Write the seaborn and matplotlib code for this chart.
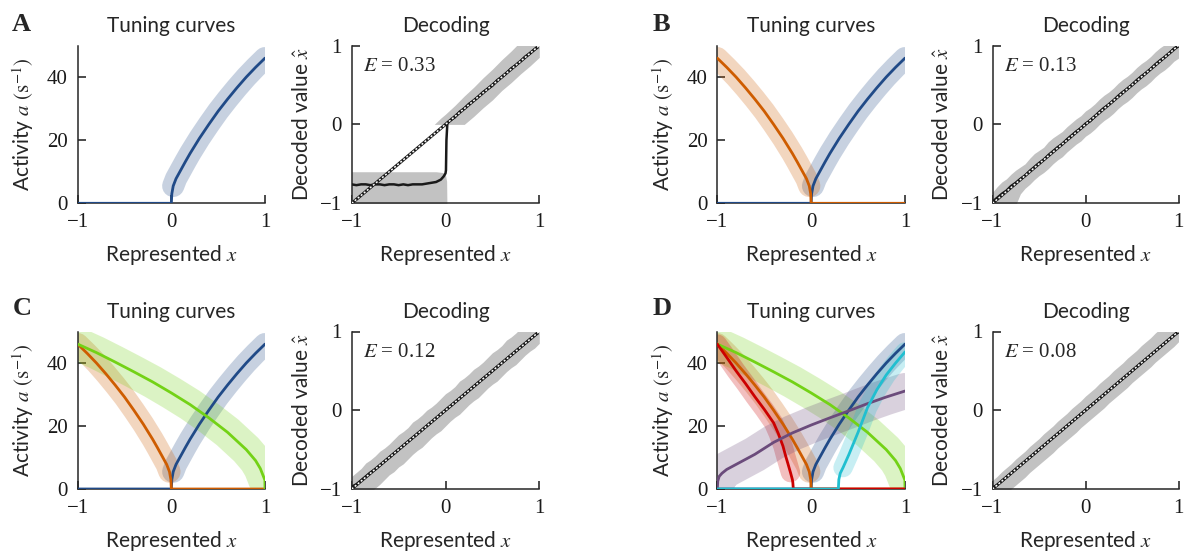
import numpy as np
import pandas as pd
import seaborn as sns
import matplotlib.pyplot as plt

# colours
c_blue = '#204a87'
c_orange = '#ce5c00'
c_green = '#73d216'
c_red = '#cc0000'
c_purple = '#6b4b7b'
c_cyan = '#20bfd0'
c_grey = '#c2c2c2'

# ---- tuning curves (rate in 1/s) ----
blue_x = [-1, 0, 0.005, 0.02, 0.05, 0.1, 0.15, 0.2, 0.3, 0.4, 0.5, 0.6, 0.7, 0.8, 0.9, 1.0]
blue_a = [0, 0, 3.0, 5.5, 7.8, 10.5, 13.2, 15.8, 20.6, 25.0, 29.2, 33.0, 36.6, 40.0, 43.1, 46.0]

orange_x = [1, 0, -0.005, -0.02, -0.05, -0.1, -0.15, -0.2, -0.3, -0.4, -0.5, -0.6, -0.7, -0.8, -0.9, -1.0]
orange_a = [0, 0, 3.0, 5.5, 7.8, 10.5, 13.2, 15.8, 20.6, 25.0, 29.2, 33.0, 36.6, 40.0, 43.1, 46.0]

green_x = [-1, -0.8, -0.6, -0.4, -0.2, 0, 0.2, 0.4, 0.6, 0.8, 0.9, 0.95, 0.99, 0.999, 1.0]
green_a = [46.0, 43.3, 40.3, 37.2, 34.0, 30.5, 26.8, 22.6, 18.0, 12.5, 9.0, 6.5, 3.5, 2.8, 0]

red_x = [-1, -0.9, -0.8, -0.7, -0.6, -0.5, -0.4, -0.35, -0.3, -0.27, -0.25, -0.22, -0.2, -0.195, -0.19, 1]
red_a = [46.0, 41.8, 37.5, 33.5, 29.3, 25.3, 21.0, 17.6, 13.6, 10.3, 8.3, 5.2, 3.0, 2.0, 0, 0]

cyan_x = [-1, 0.29, 0.295, 0.31, 0.34, 0.4, 0.5, 0.6, 0.7, 0.8, 0.9, 1.0]
cyan_a = [0, 0, 3.0, 5.0, 6.8, 10.8, 18.0, 25.8, 31.5, 36.2, 40.0, 43.5]

purple_x = [-1, -0.995, -0.98, -0.95, -0.9, -0.8, -0.6, -0.4, -0.2, 0, 0.2, 0.4, 0.6, 0.8, 1.0]
purple_a = [0, 2.5, 4.0, 5.0, 6.2, 7.8, 11.0, 14.8, 17.8, 20.3, 22.6, 24.8, 27.1, 29.2, 31.1]

# ---- decoding ----
dec_x = np.round(np.linspace(-1, 1, 41), 3)

B_dec = [-0.98, -0.93, -0.88, -0.84, -0.78, -0.74, -0.69, -0.65, -0.59, -0.54, -0.49,
         -0.45, -0.39, -0.34, -0.29, -0.25, -0.19, -0.14, -0.09, -0.05, 0.01,
         0.04, 0.10, 0.16, 0.21, 0.25, 0.30, 0.36, 0.41, 0.45, 0.50,
         0.56, 0.61, 0.65, 0.70, 0.76, 0.81, 0.85, 0.90, 0.96, 0.99]
B_lo = [-1.15, -1.12, -1.08, -1.06, -1.03, -1.02, -0.88, -0.81, -0.76, -0.70, -0.65,
        -0.61, -0.56, -0.50, -0.45, -0.41, -0.35, -0.30, -0.25, -0.21, -0.15,
        -0.11, -0.06, 0.00, 0.05, 0.09, 0.14, 0.20, 0.25, 0.29, 0.34,
        0.40, 0.45, 0.49, 0.54, 0.60, 0.65, 0.69, 0.74, 0.80, 0.84]
B_hi = [-0.86, -0.79, -0.73, -0.69, -0.63, -0.58, -0.54, -0.50, -0.43, -0.37, -0.33,
        -0.29, -0.22, -0.17, -0.13, -0.09, -0.03, 0.02, 0.07, 0.11, 0.17,
        0.21, 0.26, 0.32, 0.37, 0.41, 0.46, 0.52, 0.57, 0.61, 0.66,
        0.72, 0.77, 0.81, 0.86, 0.92, 0.97, 1.01, 1.06, 1.12, 1.16]

C_dec = [-0.97, -0.94, -0.89, -0.84, -0.79, -0.75, -0.70, -0.65, -0.60, -0.55, -0.50,
         -0.45, -0.40, -0.35, -0.30, -0.25, -0.20, -0.15, -0.10, -0.05, 0.00,
         0.05, 0.10, 0.15, 0.20, 0.25, 0.30, 0.35, 0.40, 0.45, 0.50,
         0.55, 0.60, 0.65, 0.70, 0.75, 0.80, 0.85, 0.90, 0.95, 0.99]
C_lo = [-1.25, -1.20, -1.14, -1.09, -1.04, -0.99, -0.94, -0.88, -0.82, -0.78, -0.72,
        -0.68, -0.62, -0.56, -0.51, -0.47, -0.41, -0.35, -0.30, -0.26, -0.20,
        -0.14, -0.09, -0.05, 0.01, 0.07, 0.12, 0.16, 0.22, 0.28, 0.33,
        0.37, 0.43, 0.49, 0.54, 0.58, 0.64, 0.70, 0.75, 0.79, 0.85]
C_hi = [-0.84, -0.79, -0.74, -0.67, -0.63, -0.58, -0.52, -0.48, -0.43, -0.37, -0.31,
        -0.27, -0.22, -0.15, -0.11, -0.06, 0.00, 0.04, 0.09, 0.15, 0.21,
        0.25, 0.30, 0.37, 0.41, 0.46, 0.52, 0.56, 0.61, 0.67, 0.73,
        0.77, 0.82, 0.89, 0.93, 0.98, 1.04, 1.08, 1.13, 1.19, 1.24]

D_dec = [-0.98, -0.95, -0.90, -0.85, -0.80, -0.75, -0.70, -0.65, -0.60, -0.55, -0.50,
         -0.45, -0.40, -0.35, -0.30, -0.25, -0.20, -0.15, -0.10, -0.05, 0.00,
         0.05, 0.10, 0.15, 0.20, 0.25, 0.30, 0.35, 0.40, 0.45, 0.50,
         0.55, 0.60, 0.65, 0.70, 0.75, 0.80, 0.85, 0.90, 0.95, 0.99]
D_lo = [-1.21, -1.16, -1.11, -1.05, -1.00, -0.95, -0.90, -0.85, -0.79, -0.74, -0.69,
        -0.64, -0.59, -0.54, -0.48, -0.43, -0.38, -0.33, -0.28, -0.22, -0.17,
        -0.12, -0.07, -0.02, 0.03, 0.09, 0.14, 0.19, 0.24, 0.29, 0.35,
        0.40, 0.45, 0.50, 0.55, 0.61, 0.66, 0.71, 0.76, 0.81, 0.87]
D_hi = [-0.89, -0.84, -0.78, -0.73, -0.68, -0.62, -0.57, -0.52, -0.46, -0.41, -0.36,
        -0.30, -0.25, -0.20, -0.14, -0.09, -0.04, 0.02, 0.07, 0.12, 0.18,
        0.23, 0.28, 0.34, 0.39, 0.44, 0.50, 0.55, 0.60, 0.66, 0.71,
        0.76, 0.82, 0.87, 0.92, 0.98, 1.03, 1.08, 1.14, 1.19, 1.25]

# panel A has a jump at x = 0, so its own grid
A_x = [-1, -0.95, -0.9, -0.85, -0.8, -0.75, -0.7, -0.65, -0.6, -0.55, -0.5, -0.45, -0.4,
       -0.35, -0.3, -0.25, -0.2, -0.15, -0.1, -0.05, -0.02, 0.0, 0.005, 0.01, 0.02, 0.05,
       0.1, 0.15, 0.2, 0.25, 0.3, 0.35, 0.4, 0.45, 0.5, 0.55, 0.6, 0.65, 0.7, 0.75, 0.8,
       0.85, 0.9, 0.95, 1.0]
A_dec = [-0.76, -0.77, -0.76, -0.76, -0.77, -0.76, -0.76, -0.77, -0.76, -0.76, -0.77,
         -0.76, -0.77, -0.76, -0.76, -0.76, -0.75, -0.74, -0.73, -0.70, -0.66, -0.62,
         -0.58, -0.20, 0.02, 0.05, 0.09, 0.16, 0.20, 0.26, 0.30, 0.35, 0.41, 0.45, 0.49,
         0.56, 0.60, 0.65, 0.71, 0.75, 0.80, 0.86, 0.90, 0.95, 0.99]
A_neg_x = [-1, -0.5, -0.1, -0.03, 0.0, 0.012, 0.016]
A_neg_lo = [-1.1, -1.1, -1.1, -1.1, -1.1, -1.1, -1.1]
A_neg_hi = [-0.60, -0.60, -0.60, -0.61, -0.64, -0.72, -1.1]
A_pos_x = [-0.12, -0.05, 0.0, 0.1, 0.2, 0.3, 0.4, 0.5, 0.6, 0.7, 0.8, 0.9, 1.0]
A_pos_lo = [0, 0, 0, 0, 0, 0.10, 0.21, 0.31, 0.43, 0.53, 0.64, 0.74, 0.85]
A_pos_hi = [0.0, 0.08, 0.13, 0.24, 0.36, 0.47, 0.59, 0.70, 0.82, 0.93, 1.05, 1.16, 1.28]

errors = {'A': '0.33', 'B': '0.13', 'C': '0.12', 'D': '0.08'}

sns.set_theme(style='ticks')
plt.rcParams['font.family'] = ['Lato', 'DejaVu Sans']
plt.rcParams['mathtext.fontset'] = 'stix'
plt.rcParams['axes.linewidth'] = 1.1
FS = 15
TICKFONT = 'Liberation Serif'

fig = plt.figure(figsize=(11.84, 5.57), dpi=100)

W, H = 1184, 557
def rect(left, top, right, bottom):
    return [left / W, 1 - bottom / H, (right - left) / W, (bottom - top) / H]

def style_axes(ax):
    sns.despine(ax=ax)
    ax.tick_params(direction='in', length=6, width=1.1, pad=7, labelsize=FS,
                   labelfontfamily=TICKFONT, colors='k')
    ax.set_xlim(-1, 1)
    ax.set_xticks([-1, 0, 1])
    ax.set_xlabel('Represented $x$', fontsize=FS, labelpad=8)

def draw_tuning(ax, neurons, letter, lx, ly):
    # translucent spread band first, then the curves
    for x, a, col, bw, amin in neurons:
        x = np.asarray(x)
        a = np.asarray(a)
        m = a > amin
        sns.lineplot(x=x[m], y=a[m], ax=ax, color=col, lw=bw, alpha=0.25,
                     solid_capstyle='round', estimator=None, sort=False, zorder=1)
    for x, a, col, bw, amin in neurons:
        sns.lineplot(x=x, y=a, ax=ax, color=col, lw=2.0, estimator=None, sort=False, zorder=3)
    style_axes(ax)
    ax.set_ylim(0, 50)
    ax.set_yticks([0, 20, 40])
    ax.set_ylabel('Activity $a$ $(\\mathrm{s}^{-1})$', fontsize=FS, labelpad=8)
    ax.set_title('Tuning curves', fontsize=FS, pad=10)
    fig.text(lx / W, 1 - ly / H, letter, fontsize=19, fontweight='bold',
             family=TICKFONT, va='baseline')

def draw_decoding(ax, bands, x, dec, err):
    for bx, lo, hi in bands:
        ax.fill_between(bx, lo, hi, color=c_grey, lw=0, zorder=1)
    sns.lineplot(x=x, y=dec, ax=ax, color='k', lw=1.8, estimator=None, sort=False, zorder=3)
    ax.axline((0, 0), slope=1, color='k', lw=2.2, zorder=4)
    ax.axline((0, 0), slope=1, color='w', lw=1.1, ls=(0, (1.3, 1.3)), zorder=5)
    style_axes(ax)
    ax.set_ylim(-1, 1)
    ax.set_yticks([-1, 0, 1])
    ax.set_ylabel('Decoded value $\\hat{x}$', fontsize=FS, labelpad=6)
    ax.set_title('Decoding', fontsize=FS, pad=10)
    ax.text(0.06, 0.84, '$E$ = ' + err, transform=ax.transAxes, fontsize=FS,
            family=TICKFONT, va='baseline')

rows = [(45.5, 203.3), (331.5, 489.0)]
cols_tc = [(77.7, 265.0), (717.3, 905.0)]
cols_dec = [(351.7, 539.3), (992.5, 1178.5)]

blue = (blue_x, blue_a, c_blue, 16, 5)
orange = (orange_x, orange_a, c_orange, 16, 5)
green = (green_x, green_a, c_green, 24, 2)
red = (red_x, red_a, c_red, 14, 5)
purple = (purple_x, purple_a, c_purple, 26, 1)
cyan = (cyan_x, cyan_a, c_cyan, 14, 5)

panels = [
    ('A', 0, 0, [blue], [(A_neg_x, A_neg_lo, A_neg_hi), (A_pos_x, A_pos_lo, A_pos_hi)], A_x, A_dec),
    ('B', 0, 1, [blue, orange], [(dec_x, B_lo, B_hi)], dec_x, B_dec),
    ('C', 1, 0, [blue, orange, green], [(dec_x, C_lo, C_hi)], dec_x, C_dec),
    ('D', 1, 1, [blue, orange, green, red, purple, cyan], [(dec_x, D_lo, D_hi)], dec_x, D_dec),
]
letter_pos = {'A': (12, 31), 'B': (653, 31), 'C': (13, 315), 'D': (653, 315)}

for letter, r, c, neurons, bands, x, dec in panels:
    top, bottom = rows[r]
    ax1 = fig.add_axes(rect(cols_tc[c][0], top, cols_tc[c][1], bottom))
    draw_tuning(ax1, neurons, letter, *letter_pos[letter])
    ax2 = fig.add_axes(rect(cols_dec[c][0], top, cols_dec[c][1], bottom))
    draw_decoding(ax2, bands, x, dec, errors[letter])

fig.savefig('out.png', dpi=100)
